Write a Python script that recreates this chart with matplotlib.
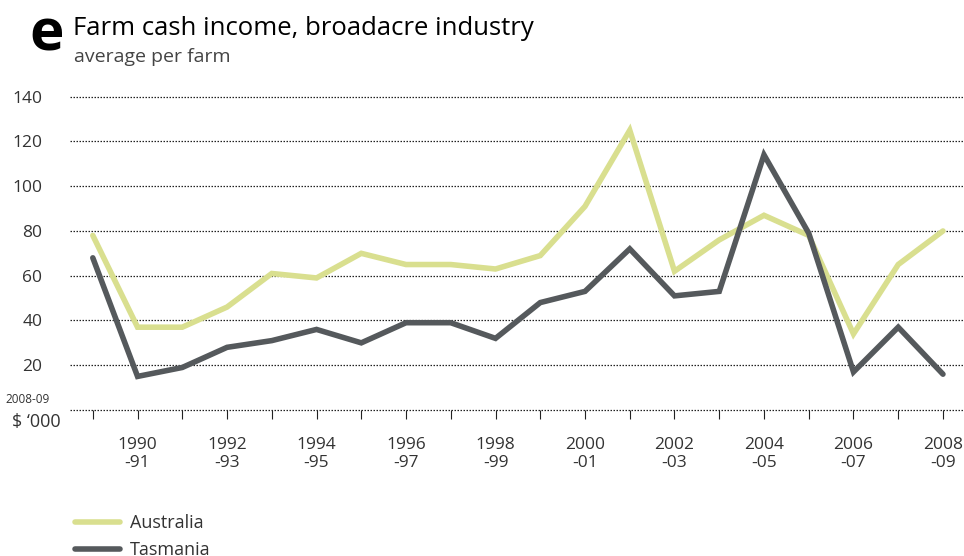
import numpy as np
import matplotlib
matplotlib.use("Agg")
import matplotlib.pyplot as plt

plt.rcParams['font.family'] = ['Open Sans', 'DejaVu Sans']

# financial years 1989-90 .. 2008-09
years = ["1989-90", "1990-91", "1991-92", "1992-93", "1993-94", "1994-95",
         "1995-96", "1996-97", "1997-98", "1998-99", "1999-00", "2000-01",
         "2001-02", "2002-03", "2003-04", "2004-05", "2005-06", "2006-07",
         "2007-08", "2008-09"]
tick_labels = ["", "1990\n-91", "", "1992\n-93", "", "1994\n-95", "", "1996\n-97",
               "", "1998\n-99", "", "2000\n-01", "", "2002\n-03", "", "2004\n-05",
               "", "2006\n-07", "", "2008\n-09"]

# $'000 per farm, 2008-09 dollars
australia = [78, 37, 37, 46, 61, 59, 70, 65, 65, 63,
             69, 91, 125, 62, 76, 87, 78, 34, 65, 80]
tasmania = [68, 15, 19, 28, 31, 36, 30, 39, 39, 32,
            48, 53, 72, 51, 53, 114, 79, 17, 37, 16]

yticks = [20, 40, 60, 80, 100, 120, 140]

AUS_COL = "#d9df8f"
TAS_COL = "#55595c"
TXT = "#333333"

fig = plt.figure(figsize=(9.64, 5.56), dpi=100)
ax = fig.add_axes([0.0726, 0.2626, 0.9274, 0.5635])

x = np.arange(len(years))
l1, = ax.plot(x, australia, color=AUS_COL, lw=4.0, solid_capstyle='round',
              solid_joinstyle='miter', label="Australia", clip_on=False, zorder=3)
l2, = ax.plot(x, tasmania, color=TAS_COL, lw=4.0, solid_capstyle='round',
              solid_joinstyle='miter', label="Tasmania", clip_on=False, zorder=3)

ax.set_xlim(-0.51, 19.47)
ax.set_ylim(0, 140)

# dotted grid including the zero line
for v in [0] + yticks:
    ax.axhline(v, color="#222222", lw=0.9, ls=(0, (1.2, 1.2)), zorder=1, clip_on=False)

for s in ax.spines.values():
    s.set_visible(False)

ax.set_xticks(x)
ax.set_xticklabels(tick_labels, fontsize=12.5, color=TXT, linespacing=1.15)
ax.tick_params(axis='x', direction='out', length=6.5, width=0.8, color="#222222", pad=13)

ax.set_yticks(yticks)
ax.set_yticklabels([str(v) for v in yticks], fontsize=12.5, color=TXT)
ax.tick_params(axis='y', length=0, pad=20)

# unit label in place of the zero tick
ax.text(-0.0224, 0.032, "2008-09", transform=ax.transAxes, ha='right', va='center',
        fontsize=8.5, color=TXT)
ax.text(-0.011, -0.037, "$ \u2018000", transform=ax.transAxes, ha='right', va='center',
        fontsize=13, color=TXT)

# heading
fig.text(0.030, 0.910, "e", fontsize=42, fontweight='bold', color="black",
         ha='left', va='baseline')
fig.text(0.076, 0.937, "Farm cash income, broadacre industry", fontsize=18.5,
         color="black", ha='left', va='baseline')
fig.text(0.077, 0.889, "average per farm", fontsize=14, color="#444444",
         ha='left', va='baseline')

ax.legend(handles=[l1, l2], loc='upper left', bbox_to_anchor=(0.0056, -0.333),
          frameon=False, fontsize=13, handlelength=2.5, handletextpad=0.55,
          labelspacing=0.5, borderaxespad=0, borderpad=0, labelcolor=TXT)

fig.savefig("out.png", dpi=100)
